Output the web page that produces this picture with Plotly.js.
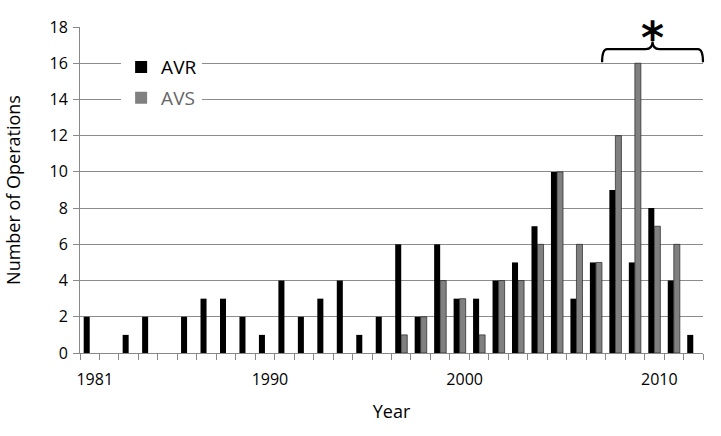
<!DOCTYPE html>
<html><head><meta charset="utf-8">
<script src="https://cdn.plot.ly/plotly-3.0.1.min.js"></script>
<style>html,body{margin:0;padding:0;background:#fff}#chart{width:721px;height:436px}</style>
</head><body><div id="chart"></div>
<script>
const years = [1981,1982,1983,1984,1985,1986,1987,1988,1989,1990,1991,1992,1993,1994,1995,1996,1997,1998,1999,2000,2001,2002,2003,2004,2005,2006,2007,2008,2009,2010,2011,2012];
const avr = [2,0,1,2,0,2,3,3,2,1,4,2,3,4,1,2,6,2,6,3,3,4,5,7,10,3,5,9,5,8,4,1];
const avs = [0,0,0,0,0,0,0,0,0,0,0,0,0,0,0,0,1,2,4,3,1,4,4,6,10,6,5,12,16,7,6,0];
const labeledYears = [1981,1990,2000,2010];

const cats = years.map(String);
const tickText = years.map(y => labeledYears.includes(y) ? String(y) : '');
const FONT = 'Open Sans, Noto Sans, sans-serif';

const data = [
  {type:'bar', x:cats, y:avr, name:'AVR', legendgroup:'a',
   marker:{color:'#000000', line:{color:'#000', width:0}}},
  {type:'bar', x:cats, y:avs, name:'<span style="color:#666">AVS</span>', legendgroup:'b',
   marker:{color:'#808080', line:{color:'#222', width:avs.map(v => v > 0 ? 0.7 : 0)}}}
];

const layout = {
  width:721, height:436,
  margin:{l:80, r:18, t:27, b:83},
  paper_bgcolor:'#fff', plot_bgcolor:'#fff',
  barmode:'group', bargap:0.38, bargroupgap:0,
  font:{family:FONT, color:'#000', size:16},
  showlegend:true,
  legend:{x:0.066, y:0.935, xanchor:'left', yanchor:'top', bgcolor:'#fff',
          font:{size:19, color:'#000'}, traceorder:'grouped', tracegroupgap:3},
  xaxis:{type:'category', tickvals:cats, ticktext:tickText, tickson:'boundaries',
         ticks:'outside', ticklen:6, tickcolor:'#888', showline:true, linecolor:'#888',
         showgrid:false, tickangle:0, ticklabelstandoff:12, ticklabelshift:5,
         tickfont:{size:16},
         title:{text:'Year', font:{size:18}, standoff:16}},
  yaxis:{range:[0,18], dtick:2, tick0:0, ticks:'outside', ticklen:6, tickcolor:'#888',
         showline:true, linecolor:'#888', showgrid:true, gridcolor:'#8c8c8c', gridwidth:1,
         zeroline:false, tickfont:{size:16}, ticklabelstandoff:2,
         title:{text:'Number of Operations', font:{size:18}, standoff:24}},
  shapes:[
    {type:'path', xref:'paper', yref:'y',
     path:'M 0.838 16.05 Q 0.838 16.78 0.846 16.78 L 0.908 16.78 Q 0.919 16.78 0.919 17.2 Q 0.919 16.78 0.930 16.78 L 0.992 16.78 Q 1.0 16.78 1.0 16.05',
     line:{color:'#000', width:2.2}}
  ],
  annotations:[
    {text:'<b>*</b>', xref:'paper', yref:'y', x:0.919, y:15.9, xanchor:'center', yanchor:'bottom',
     showarrow:false, font:{size:44, color:'#000', family:'DejaVu Sans'}}
  ]
};
Plotly.newPlot('chart', data, layout, {displayModeBar:false, staticPlot:true});
</script></body></html>
